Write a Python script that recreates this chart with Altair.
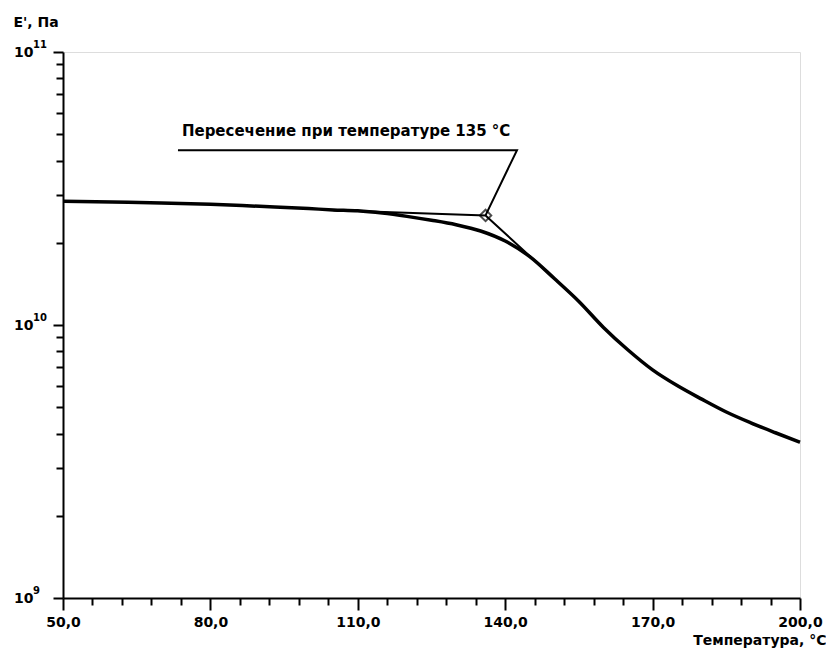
import altair as alt
import pandas as pd

# Main curve E'(T)
temps = [50, 60, 70, 80, 90, 100, 105, 110, 115, 120, 125, 130, 135, 140, 145,
         150, 155, 160, 165, 170, 175, 180, 185, 190, 195, 200]
modulus = [2.84e10, 2.82e10, 2.80e10, 2.77e10, 2.72e10, 2.67e10, 2.64e10, 2.62e10,
           2.57e10, 2.50e10, 2.42e10, 2.33e10, 2.21e10, 2.03e10, 1.78e10,
           1.48e10, 1.22e10, 9.8e9, 8.1e9, 6.85e9, 6.0e9, 5.35e9, 4.8e9,
           4.38e9, 4.03e9, 3.72e9]

# Tangent construction lines (upper flat tangent, marker, steep tangent)
tan_t = [105.0, 136.0, 154.2]
tan_e = [2.63e10, 2.52e10, 1.26e10]

# Intersection marker
mark_t = [136.0]
mark_e = [2.52e10]

# Leader line: marker -> corner -> left end
lead_t = [136.0, 142.4, 73.4]
lead_e = [2.52e10, 4.37e10, 4.37e10]

# Annotation
note_t = [74.2]
note_e = [5.13e10]
note_text = ["Пересечение при температуре 135 °C"]

x_major = [50, 80, 110, 140, 170, 200]
x_minor = [v for v in range(50, 201, 6) if v not in x_major]
y_major = [1e9, 1e10, 1e11]
y_minor = [m * 10 ** p for p in (9, 10) for m in range(2, 10)]
y_exponents = ["9", "10", "11"]

curve_df = pd.DataFrame({"T": temps, "E": modulus})
tan_df = pd.DataFrame({"T": tan_t, "E": tan_e, "o": list(range(len(tan_t)))})
mark_df = pd.DataFrame({"T": mark_t, "E": mark_e})
lead_df = pd.DataFrame({"T": lead_t, "E": lead_e, "o": list(range(len(lead_t)))})
note_df = pd.DataFrame({"T": note_t, "E": note_e, "txt": note_text})
exp_df = pd.DataFrame({"T": [50] * 3, "E": y_major, "txt": y_exponents})

FONT = "DejaVu Sans"
xscale = alt.Scale(domain=[50, 200], nice=False, zero=False)
yscale = alt.Scale(type="log", domain=[1e9, 1e11], nice=False)

x_axis_major = alt.Axis(
    orient="bottom", values=x_major, tickSize=12, tickWidth=2, tickColor="black",
    domainColor="black", domainWidth=2, grid=False,
    labelExpr="replace(format(datum.value, '.1f'), '.', ',')",
    labelFont=FONT, labelFontSize=14, labelFontWeight="bold", labelColor="black",
    labelPadding=5, labelFlush=False,
    title="Температура, °C", titleFont=FONT, titleFontSize=14, titleFontWeight="bold",
    titleColor="black", titleAlign="right", titleAnchor="end", titleX=763, titleY=46,
    titleBaseline="alphabetic",
)
x_axis_minor = alt.Axis(
    orient="bottom", values=x_minor, tickSize=7, tickWidth=2, tickColor="black",
    domain=False, labels=False, grid=False, title=None,
)
y_axis_major = alt.Axis(
    orient="left", values=y_major, tickSize=10, tickWidth=2, tickColor="black",
    domainColor="black", domainWidth=2, grid=False,
    labelExpr="'10'",
    labelFont=FONT, labelFontSize=14, labelFontWeight="bold", labelColor="black",
    labelPadding=20, labelFlush=False, labelBaseline="middle",
    title="E', Па", titleFont=FONT, titleFontSize=14, titleFontWeight="bold",
    titleColor="black", titleAngle=0, titleAlign="left", titleX=-50, titleY=-26,
    titleBaseline="alphabetic",
)
y_axis_minor = alt.Axis(
    orient="left", values=y_minor, tickSize=7, tickWidth=2, tickColor="black",
    domain=False, labels=False, grid=False, title=None,
)

curve = alt.Chart(curve_df).mark_line(
    color="black", strokeWidth=3.5, interpolate="monotone"
).encode(
    x=alt.X("T:Q", scale=xscale, axis=x_axis_major),
    y=alt.Y("E:Q", scale=yscale, axis=y_axis_major),
)

tangents = alt.Chart(tan_df).mark_line(color="black", strokeWidth=2).encode(
    x=alt.X("T:Q", scale=xscale, axis=x_axis_minor),
    y=alt.Y("E:Q", scale=yscale, axis=y_axis_minor),
    order="o:Q",
)

leader = alt.Chart(lead_df).mark_line(color="black", strokeWidth=2).encode(
    x=alt.X("T:Q", scale=xscale, axis=None),
    y=alt.Y("E:Q", scale=yscale, axis=None),
    order="o:Q",
)

marker = alt.Chart(mark_df).mark_point(
    shape="diamond", filled=False, color="black", size=130, strokeWidth=2
).encode(
    x=alt.X("T:Q", scale=xscale, axis=None),
    y=alt.Y("E:Q", scale=yscale, axis=None),
)

note = alt.Chart(note_df).mark_text(
    align="left", baseline="middle", font=FONT, fontSize=15, fontWeight="bold",
    color="black"
).encode(
    x=alt.X("T:Q", scale=xscale, axis=None),
    y=alt.Y("E:Q", scale=yscale, axis=None),
    text="txt:N",
)

exponents = alt.Chart(exp_df).mark_text(
    align="left", baseline="middle", font=FONT, fontSize=10, fontWeight="bold",
    color="black", dx=-30, dy=-7
).encode(
    x=alt.X("T:Q", scale=xscale, axis=None),
    y=alt.Y("E:Q", scale=yscale, axis=None),
    text="txt:N",
)

chart = alt.layer(curve, tangents, leader, marker, note, exponents).resolve_axis(
    x="independent", y="independent"
).properties(
    width=737, height=546,
    autosize="none",
    padding={"left": 55, "top": 44, "right": 26, "bottom": 50},
).configure_view(stroke="black", strokeWidth=2).configure(background="white")

chart.save("out.html", embed_options={"renderer": "svg", "actions": False})
